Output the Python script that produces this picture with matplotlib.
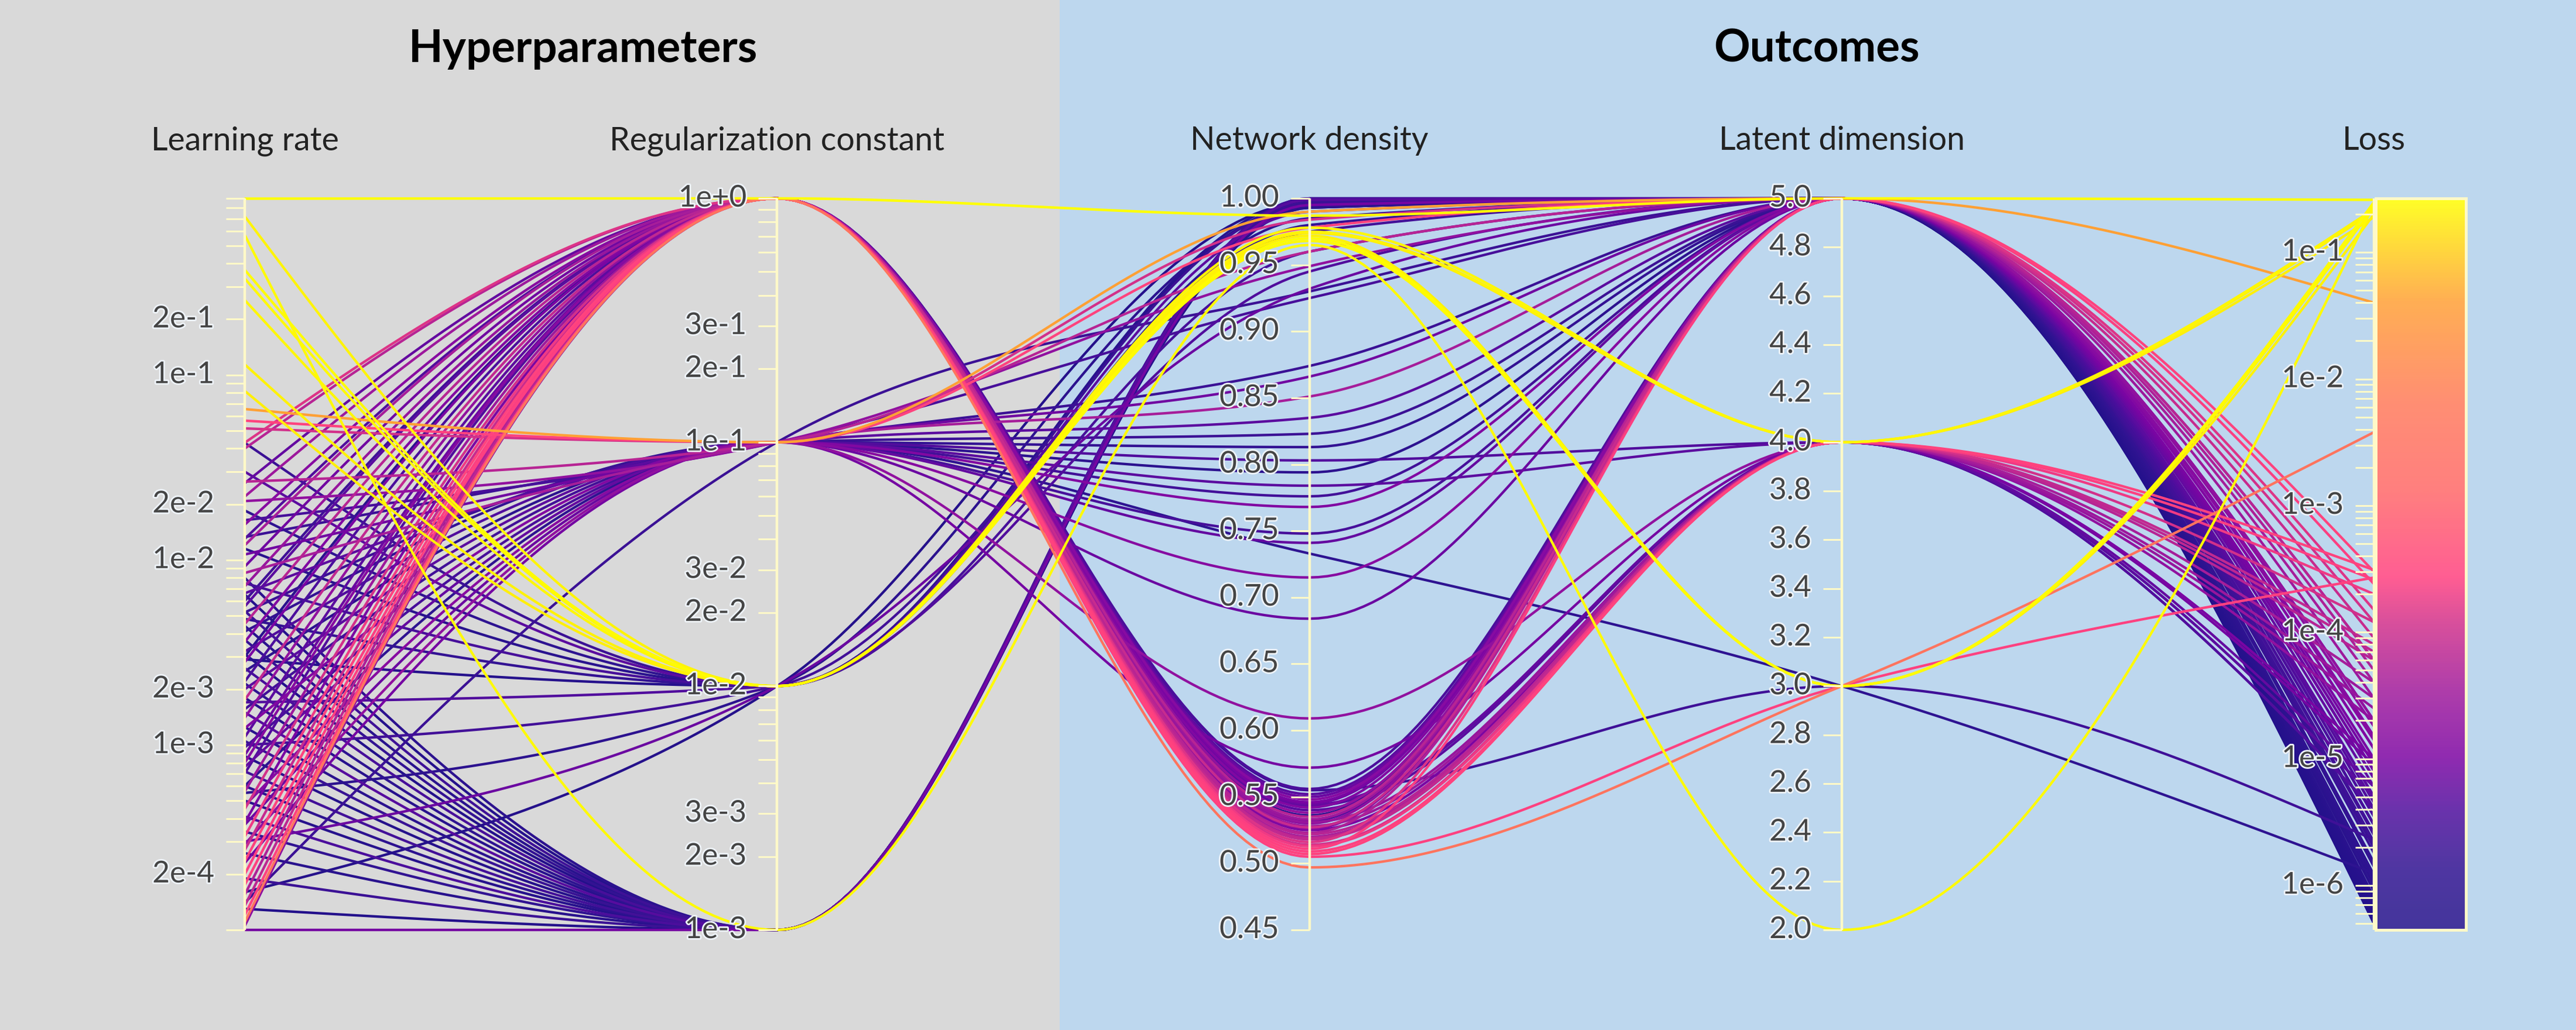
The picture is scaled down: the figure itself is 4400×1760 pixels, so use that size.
import numpy as np
import matplotlib
matplotlib.use("Agg")
import matplotlib.pyplot as plt
from matplotlib.colors import LinearSegmentedColormap
from matplotlib.patches import Rectangle
import matplotlib.patheffects as pe

plt.rcParams['font.family'] = ['Lato', 'DejaVu Sans']

# ---- data: one entry per training run ----
# yellow (high loss) runs
lr_a = [0.897, 0.72, 0.571, 0.37, 0.332, 0.254, 0.114, 0.082]
reg_a = [1.0, 1e-2, 1e-3, 1e-2, 1e-2, 1e-2, 1e-2, 1e-2]
dens_a = [0.987, 0.975, 0.965, 0.970, 0.968, 0.978, 0.972, 0.974]
lat_a = [5, 4, 2, 3, 3, 4, 3, 4]
loss_a = [0.26, 0.21, 0.24, 0.25, 0.23, 0.22, 0.20, 0.19]

# regularization 1e-1
lr_b = [0.0654, 0.0566, 0.0514, 0.0265, 0.0208, 0.0164, 0.0133, 0.0107, 8.5e-3, 6.6e-3,
        5.2e-3, 4.1e-3, 3.2e-3, 2.5e-3, 2.0e-3, 1.56e-3, 1.23e-3, 9.7e-4, 7.6e-4, 6.0e-4,
        4.7e-4, 3.7e-4, 2.9e-4, 2.3e-4, 1.4e-4]
reg_b = [0.1] * 25
dens_b = [0.990, 0.978, 0.984, 0.960, 0.949, 0.925, 0.874, 0.866, 0.851, 0.835,
          0.823, 0.813, 0.803, 0.794, 0.784, 0.776, 0.768, 0.748, 0.741, 0.733,
          0.715, 0.684, 0.609, 0.572, 0.930]
lat_b = [5, 5, 5, 5, 5, 5, 5, 5, 5, 5,
         5, 5, 4, 5, 4, 5, 5, 5, 5, 3,
         5, 5, 4, 4, 5]
loss_b = [0.04, 3.0e-4, 1.2e-4, 6e-5, 2e-5, 3e-6, 2e-6, 8e-6, 4e-5, 5e-6,
          2e-6, 1.5e-6, 4e-6, 1e-6, 5e-6, 2.5e-6, 1.2e-5, 3e-6, 6e-6, 1.25e-6,
          1.5e-5, 7e-6, 2e-5, 9e-6, 2e-6]

# regularization 1e+0
lr_c = [0.043, 0.040, 0.022, 0.0155, 0.012, 0.0092, 7.2e-3, 5.6e-3, 4.5e-3, 3.6e-3,
        2.8e-3, 2.2e-3, 1.75e-3, 1.4e-3, 1.1e-3, 8.8e-4, 7.0e-4, 5.6e-4, 4.5e-4, 3.8e-4,
        3.2e-4, 2.7e-4, 2.35e-4, 2.0e-4, 1.75e-4, 1.55e-4, 1.35e-4, 1.2e-4, 1.1e-4, 1.05e-4,
        6.0e-3, 3.0e-3, 1.3e-2, 2.6e-2, 8.0e-4]
reg_c = [1.0] * 35
dens_c = [0.516, 0.535, 0.528, 0.548, 0.520, 0.545, 0.531, 0.552, 0.522, 0.542,
          0.525, 0.556, 0.518, 0.538, 0.540, 0.550, 0.543, 0.533, 0.514, 0.546,
          0.513, 0.527, 0.507, 0.511, 0.509, 0.523, 0.519, 0.505, 0.497, 0.530,
          0.555, 0.536, 0.532, 0.544, 0.526]
lat_c = [5, 5, 4, 5, 4, 5, 4, 5, 4, 5,
         4, 5, 4, 5, 4, 5, 4, 5, 4, 5,
         4, 5, 4, 5, 4, 5, 4, 3, 3, 5,
         3, 5, 5, 4, 5]
loss_c = [1.5e-4, 6e-5, 3e-5, 1.5e-5, 4e-5, 8e-6, 2.5e-5, 5e-6, 6e-5, 1.2e-5,
          1e-5, 3.5e-6, 8e-5, 2e-5, 5e-6, 7e-6, 4e-6, 3e-5, 1.2e-4, 1e-5,
          2.0e-4, 9e-5, 3.1e-4, 2.4e-4, 2.6e-4, 5e-5, 7e-5, 2.7e-4, 3.8e-3, 1.8e-5,
          2.3e-6, 9e-7, 4e-6, 6e-6, 1.4e-5]

# regularization 1e-2
lr_d = [0.043, 0.030, 0.0185, 0.0115, 7.5e-3, 4.8e-3, 2.9e-3, 1.7e-3, 1.0e-3, 5.5e-4,
        3.0e-4, 1.6e-4]
reg_d = [1e-2] * 12
dens_d = [0.995, 0.990, 0.985, 0.998, 0.960, 0.980, 0.996, 0.945, 0.975, 0.993,
          0.932, 0.997]
lat_d = [5] * 12
loss_d = [2e-6, 5e-6, 1.2e-6, 8e-7, 3e-6, 1.5e-6, 6e-7, 4e-6, 2.5e-6, 1e-6,
          7e-6, 5.5e-7]

# regularization 1e-3
lr_e = [8.0e-3, 6.5e-3, 5.3e-3, 4.4e-3, 3.7e-3, 3.1e-3, 2.6e-3, 2.15e-3, 1.8e-3, 1.5e-3,
        1.25e-3, 1.05e-3, 8.7e-4, 7.2e-4, 6.0e-4, 5.0e-4, 4.1e-4, 3.4e-4, 2.6e-4, 1.9e-4,
        1.3e-4, 1.0e-4]
reg_e = [1e-3] * 22
dens_e = [0.998, 0.996, 0.999, 0.994, 0.997, 1.0, 0.995, 0.998, 0.993, 0.999,
          0.996, 0.997, 0.994, 1.0, 0.998, 0.995, 0.999, 0.996, 0.993, 0.997,
          0.999, 0.995]
lat_e = [5] * 22
loss_e = [1.0e-6, 6e-7, 2.2e-6, 8e-7, 1.5e-6, 5e-7, 3e-6, 1.2e-6, 7e-7, 4.5e-6,
          9e-7, 1.8e-6, 5.5e-7, 2.6e-6, 1.1e-6, 6.5e-7, 3.5e-6, 1.4e-6, 7.5e-7, 2e-6,
          5e-7, 9e-6]

learning_rate = np.array(lr_a + lr_b + lr_c + lr_d + lr_e)
reg_constant = np.array(reg_a + reg_b + reg_c + reg_d + reg_e)
net_density = np.array(dens_a + dens_b + dens_c + dens_d + dens_e)
latent_dim = np.array(lat_a + lat_b + lat_c + lat_d + lat_e, dtype=float)
loss = np.array(loss_a + loss_b + loss_c + loss_d + loss_e)

dim_names = ["Learning rate", "Regularization constant", "Network density",
             "Latent dimension", "Loss"]
dim_ranges = [(1e-4, 0.9), (1e-3, 1.0), (0.45, 1.0), (2.0, 5.0), (4.45e-7, 0.267)]
dim_log = [True, True, False, False, True]

# ---- styling ----
W, H = 4400, 1760
X0, X1 = 418, 4055
YT, YB = 339, 1589
cream = '#fff9c8'
grey_bg = '#d9d9d9'
blue_bg = '#bdd7ee'

cmap = LinearSegmentedColormap.from_list('loss', [
    (0.00, '#22108a'), (0.08, '#2f1391'), (0.16, '#4e0e9d'), (0.235, '#7c05a3'),
    (0.33, '#a21b9b'), (0.42, '#d2308a'), (0.48, '#ff4080'), (0.60, '#ff6868'),
    (0.72, '#ff7a5a'), (0.86, '#ffa035'), (1.00, '#ffff00')])


def normalize(v, k):
    lo, hi = dim_ranges[k]
    if dim_log[k]:
        return (np.log10(v) - np.log10(lo)) / (np.log10(hi) - np.log10(lo))
    return (np.asarray(v) - lo) / (hi - lo)


def monotone_path(ys, n=60):
    # d3 curveMonotoneX style cubic through equally spaced axes
    ys = np.asarray(ys, dtype=float)
    s = np.diff(ys)
    m = np.zeros(len(ys))
    for i in range(1, len(ys) - 1):
        s0, s1 = s[i - 1], s[i]
        p = (s0 + s1) / 2
        m[i] = (np.sign(s0) + np.sign(s1)) * min(abs(s0), abs(s1), 0.5 * abs(p))
    m[0] = (3 * s[0] - m[1]) / 2
    m[-1] = (3 * s[-1] - m[-2]) / 2
    t = np.linspace(0, 1, n)
    xs, yv = [], []
    for i in range(len(ys) - 1):
        p0, p3 = ys[i], ys[i + 1]
        p1, p2 = p0 + m[i] / 3, p3 - m[i + 1] / 3
        b = ((1 - t) ** 3)[:, None] * np.array([0, p0]) \
            + (3 * (1 - t) ** 2 * t)[:, None] * np.array([1 / 3, p1]) \
            + (3 * (1 - t) * t ** 2)[:, None] * np.array([2 / 3, p2]) \
            + (t ** 3)[:, None] * np.array([1, p3])
        xs.append(b[:, 0] + i)
        yv.append(b[:, 1])
    return np.concatenate(xs), np.concatenate(yv)


fig = plt.figure(figsize=(W / 100, H / 100), dpi=100)
fig.patch.set_facecolor(blue_bg)

# background panels
bg = fig.add_axes([0, 0, 1, 1], zorder=-5)
bg.set_xlim(0, W)
bg.set_ylim(H, 0)
bg.axis('off')
bg.add_patch(Rectangle((0, 0), 1810, H, facecolor=grey_bg, edgecolor='none'))
bg.add_patch(Rectangle((1810, 0), W - 1810, H, facecolor=blue_bg, edgecolor='none'))

ax = fig.add_axes([X0 / W, 1 - YB / H, (X1 - X0) / W, (YB - YT) / H], zorder=1)
ax.set_xlim(0, 4)
ax.set_ylim(0, 1)
ax.axis('off')
dpx = 4 / (X1 - X0)  # data units per pixel (x)
dpy = 1 / (YB - YT)

columns = [learning_rate, reg_constant, net_density, latent_dim, loss]
norm_cols = np.array([normalize(c, k) for k, c in enumerate(columns)]).T
color_val = normalize(loss, 4)

for idx in np.argsort(loss):
    xs, ys = monotone_path(norm_cols[idx])
    ax.plot(xs, ys, color=cmap(color_val[idx]), lw=3.1, solid_capstyle='round',
            clip_on=False, zorder=2)


def fmt_exp(v):
    e = int(np.floor(np.log10(v) + 1e-9))
    m = int(round(v / 10 ** e))
    return f"{m}e{'+' if e >= 0 else '-'}{abs(e)}"


halo = [pe.withStroke(linewidth=4, foreground='#eef3f8')]

for k in range(5):
    lo, hi = dim_ranges[k]
    ax.plot([k, k], [0, 1], color=cream, lw=3.2, zorder=3, clip_on=False,
            solid_capstyle='butt')
    ticks, labels = [], []
    if dim_log[k]:
        label_mults = {0: (1, 2), 1: (1, 2, 3), 4: (1,)}[k]
        for e in range(-7, 1):
            for mlt in range(1, 10):
                v = mlt * 10.0 ** e
                if lo * 0.999 <= v <= hi * 1.001:
                    ticks.append(v)
                    show = mlt in label_mults and not (k == 0 and v < 1.5e-4)
                    labels.append(fmt_exp(v) if show else None)
    elif k == 2:
        ticks = list(np.round(np.arange(0.45, 1.0001, 0.05), 2))
        labels = [f"{v:.2f}" for v in ticks]
    else:
        ticks = list(np.round(np.arange(2.0, 5.0001, 0.2), 1))
        labels = [f"{v:.1f}" for v in ticks]
    for v, lab in zip(ticks, labels):
        yv = normalize(v, k)
        ax.plot([k - 32 * dpx, k], [yv, yv], color=cream, lw=2.2, zorder=3,
                clip_on=False, solid_capstyle='butt')
        if lab:
            ax.text(k - 52 * dpx, yv, lab, ha='right', va='center', fontsize=37,
                    color='#444444', zorder=5, path_effects=halo)
    ax.text(k, 1 + (YT - 241) * dpy, dim_names[k], ha='center', va='center',
            fontsize=40, color='#222222')

fig.text(996 / W, 1 - 84 / H, "Hyperparameters", ha='center', va='center',
         fontsize=55, fontweight='bold', color='black')
fig.text(3103 / W, 1 - 84 / H, "Outcomes", ha='center', va='center',
         fontsize=55, fontweight='bold', color='black')

# colour bar for loss
cax = fig.add_axes([4058 / W, 1 - YB / H, 154 / W, (YB - YT) / H], zorder=2)
cax.imshow(np.linspace(0, 1, 512)[:, None], aspect='auto', cmap=cmap, origin='lower',
           extent=[0, 1, 0, 1], alpha=0.85)
cax.set_xticks([])
cax.set_yticks([])
for sp in cax.spines.values():
    sp.set_color(cream)
    sp.set_linewidth(3.5)

fig.savefig("out.png", dpi=100, facecolor=fig.get_facecolor())
